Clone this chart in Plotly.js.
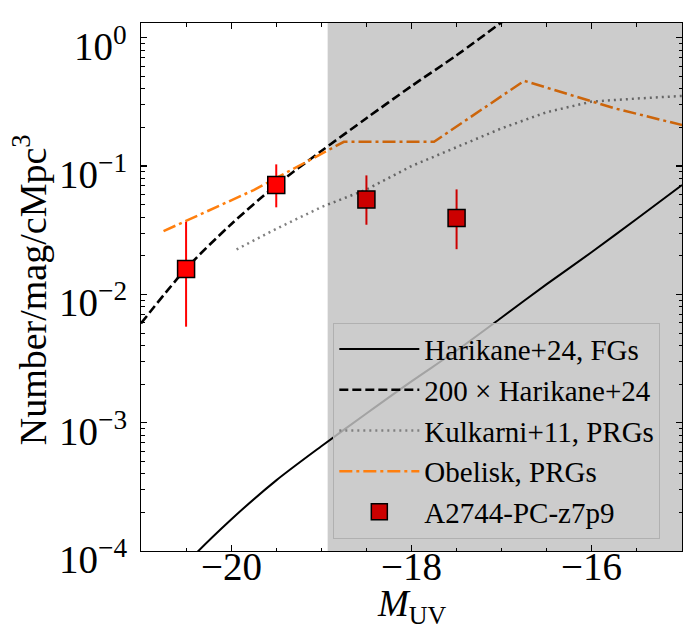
<!DOCTYPE html>
<html>
<head>
<meta charset="utf-8">
<script src="https://cdn.plot.ly/plotly-3.0.1.min.js"></script>
<style>
html,body{margin:0;padding:0;background:#fff;}
#chart{width:683px;height:632px;}
</style>
</head>
<body>
<div id="chart"></div>
<script>
// Harikane+24 faint galaxies (solid) and 200x version (dashed)
const harikaneMuv = [-21, -20.5, -20, -19.5, -19, -18.5, -18, -17.5, -17, -16.5, -16, -15.5, -15];
const harikanePhi = [2.97e-5, 7.94e-5, 1.76e-4, 3.55e-4, 6.55e-4, 1.18e-3, 2.10e-3, 3.65e-3, 6.607e-3, 1.202e-2, 2.138e-2, 3.89e-2, 7.11e-2];
const harikane200Muv = [-21, -20.5, -20, -19.5, -19, -18.5, -18, -17.5, -17, -16.5];
const harikane200Phi = [5.94e-3, 1.588e-2, 3.52e-2, 7.10e-2, 0.131, 0.236, 0.420, 0.730, 1.321, 2.404];

// Kulkarni+11 PRGs
const kulkarniMuv = [-19.94, -19.5, -19, -18.5, -18, -17.5, -17, -16.5, -16, -15.5, -15];
const kulkarniPhi = [0.0224, 0.0324, 0.0479, 0.0656, 0.100, 0.141, 0.197, 0.263, 0.318, 0.336, 0.352];

// Obelisk PRGs
const obeliskMuv = [-20.75, -19.75, -18.75, -17.75, -16.75, -15.75, -14.75];
const obeliskPhi = [0.0311, 0.065, 0.1546, 0.1546, 0.462, 0.282, 0.189];

// A2744-PC-z7p9 measurements
const pcMuv = [-20.5, -19.5, -18.5, -17.5];
const pcPhi = [0.01575, 0.0711, 0.055, 0.0393];
const pcErrUp = [0.0368, 0.1031, 0.0846, 0.0658];
const pcErrLo = [0.0056, 0.0477, 0.0349, 0.0225];

// shaded faint region start
const shadeStart = -18.93;

const yTickVals = [1e-4, 1e-3, 1e-2, 1e-1, 1];
const yTickText = ['10<sup>\u22124</sup>', '10<sup>\u22123</sup>', '10<sup>\u22122</sup>', '10<sup>\u22121</sup>', '10<sup>0</sup>'];
const xTickVals = [-20, -18, -16];
const xTickText = ['\u221220', '\u221218', '\u221216'];

const yMinor = [];
[1e-4, 1e-3, 1e-2, 1e-1].forEach(d => { for (let k = 2; k <= 9; k++) yMinor.push(d * k); });

const FONT = 'Liberation Serif, Times New Roman, serif';

const traces = [
  {x: harikaneMuv, y: harikanePhi, mode: 'lines', name: 'Harikane+24, FGs',
   line: {color: '#000000', width: 2, shape: 'spline', smoothing: 0.8}},
  {x: harikane200Muv, y: harikane200Phi, mode: 'lines', name: '200 \u00d7 Harikane+24',
   line: {color: '#000000', width: 2.6, dash: '9px,4px', shape: 'spline', smoothing: 0.8}},
  {x: kulkarniMuv, y: kulkarniPhi, mode: 'lines', name: 'Kulkarni+11, PRGs',
   line: {color: '#808080', width: 2.5, dash: '2px,4px'}},
  {x: obeliskMuv, y: obeliskPhi, mode: 'lines', name: 'Obelisk, PRGs',
   line: {color: '#ff7f0e', width: 2.5, dash: '13px,4px,3px,4px'}},
  {x: pcMuv, y: pcPhi, mode: 'markers', name: 'A2744-PC-z7p9', showlegend: false,
   marker: {symbol: 'square', size: 17, color: '#ff0000', line: {color: '#000000', width: 1.5}},
   error_y: {type: 'data', symmetric: false,
     array: pcErrUp.map((v, i) => v - pcPhi[i]),
     arrayminus: pcPhi.map((v, i) => v - pcErrLo[i]),
     color: '#ff0000', thickness: 2, width: 0}},
  {x: [null], y: [null], mode: 'markers', name: 'A2744-PC-z7p9',
   marker: {symbol: 'square', size: 17, color: '#cc0000', line: {color: '#000000', width: 1.5}}}
];

const annotations = [];
xTickVals.forEach((v, i) => annotations.push({
  text: xTickText[i], showarrow: false, xref: 'x', yref: 'paper', x: v, y: -0.0285,
  xanchor: 'center', yanchor: 'middle', font: {family: FONT, size: 39, color: '#000'}
}));
yTickVals.forEach((v, i) => annotations.push({
  text: yTickText[i], showarrow: false, xref: 'paper', yref: 'y', x: -0.0222, y: Math.log10(v),
  xanchor: 'right', yanchor: 'middle', yshift: -6, font: {family: FONT, size: 39, color: '#000'}
}));
annotations.push({
  text: 'Number/mag/cMpc<sup>3</sup>', textangle: -90, showarrow: false,
  xref: 'paper', yref: 'paper', x: -0.205, y: 0.494, xanchor: 'center', yanchor: 'middle',
  font: {family: FONT, size: 38, color: '#000'}
});
annotations.push({
  text: '<i>M</i><sub>UV</sub>', showarrow: false,
  xref: 'paper', yref: 'paper', x: 0.5, y: -0.1534, xanchor: 'center', yanchor: 'bottom',
  font: {family: FONT, size: 37, color: '#000'}
});

const layout = {
  width: 683, height: 632,
  margin: {l: 141, r: 1, t: 23, b: 81},
  paper_bgcolor: '#ffffff', plot_bgcolor: '#ffffff',
  font: {family: FONT, color: '#000000', size: 39},
  showlegend: true,
  xaxis: {
    range: [-21, -15], showgrid: false, zeroline: false,
    showline: true, linecolor: '#000', linewidth: 1.3, mirror: 'allticks',
    ticks: 'inside', ticklen: 6, tickwidth: 1.3, tickcolor: '#000',
    tickmode: 'array', tickvals: xTickVals, showticklabels: false,
    minor: {dtick: 0.5, ticks: 'inside', ticklen: 3.5, tickwidth: 1, tickcolor: '#000', showgrid: false}
  },
  yaxis: {
    type: 'log', range: [-4, 0.115], showgrid: false, zeroline: false,
    showline: true, linecolor: '#000', linewidth: 1.3, mirror: 'allticks',
    ticks: 'inside', ticklen: 6, tickwidth: 1.3, tickcolor: '#000',
    tickmode: 'array', tickvals: yTickVals, showticklabels: false,
    minor: {tickmode: 'array', tickvals: yMinor, ticks: 'inside', ticklen: 3.5, tickwidth: 1, tickcolor: '#000', showgrid: false}
  },
  annotations: annotations,
  legend: {
    x: 0.3555, y: 0.4324, xanchor: 'left', yanchor: 'top',
    bgcolor: 'rgba(204,204,204,0.8)', bordercolor: '#b0b0b0', borderwidth: 1,
    font: {family: FONT, size: 29, color: '#000'},
    itemwidth: 80, tracegroupgap: 0
  },
  shapes: [{
    type: 'rect', xref: 'x', yref: 'paper', x0: shadeStart, x1: -15, y0: 0, y1: 1,
    fillcolor: 'rgba(0,0,0,0.2)', line: {width: 0}, layer: 'above'
  }]
};

Plotly.newPlot('chart', traces, layout, {displayModeBar: false, staticPlot: true});
</script>
</body>
</html>
